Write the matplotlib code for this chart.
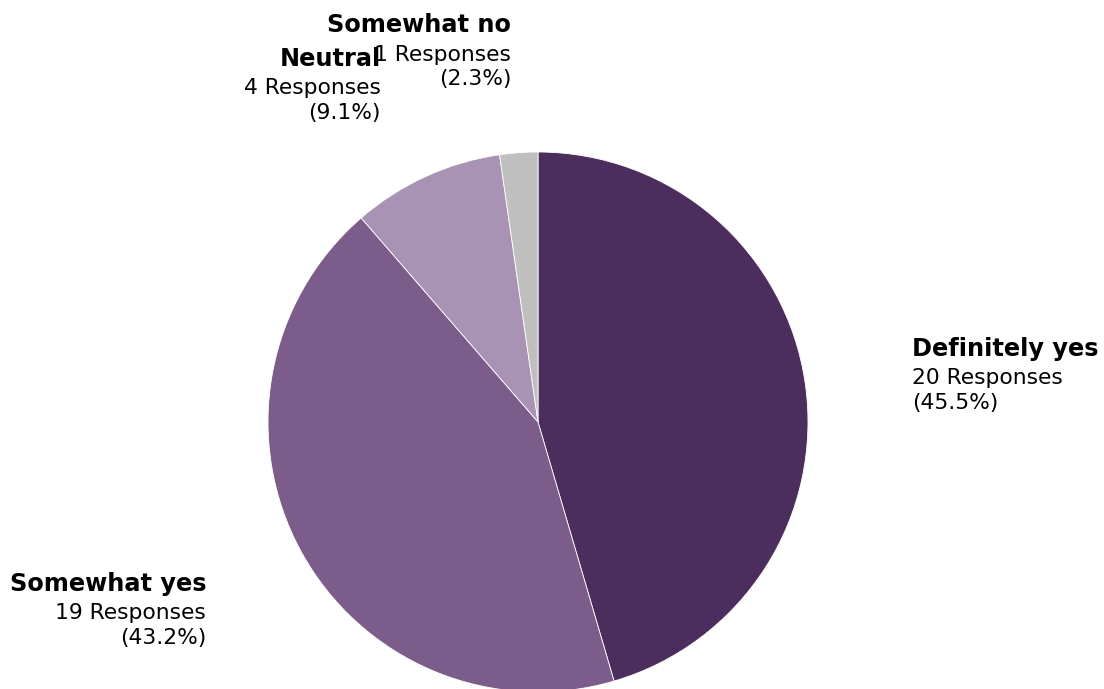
import matplotlib
matplotlib.use("Agg")
import matplotlib.pyplot as plt
import numpy as np

labels = ["Definitely yes", "Somewhat yes", "Neutral", "Somewhat no"]
counts = [20, 19, 4, 1]
colors = ["#4b2d5e", "#7c5c8a", "#a893b5", "#bfbfbf"]

W, H = 1104, 689
cx, cy, r = 538, 422, 270

fig = plt.figure(figsize=(W / 100, H / 100), dpi=100)
ax = fig.add_axes([0, 0, 1, 1])

wedges, _ = ax.pie(counts, colors=colors, startangle=90, counterclock=False,
                   radius=1, wedgeprops=dict(edgecolor="white", linewidth=0.6))

total = sum(counts)
for w, lab, n in zip(wedges, labels, counts):
    ang = np.deg2rad((w.theta1 + w.theta2) / 2)
    x = 1.4 * np.cos(ang)
    y = 1.4 * np.sin(ang)
    ha = "left" if x > 0 else "right"
    ax.annotate(lab, (x, y), xytext=(0, 5.5), textcoords="offset points",
                ha=ha, va="bottom", fontsize=17.3, fontweight="bold")
    ax.text(x, y, f"{n} Responses\n({n / total * 100:.1f}%)", ha=ha, va="top",
            fontsize=15.7, linespacing=1.28)

ax.set_xlim(-cx / r, (W - cx) / r)
ax.set_ylim(-(H - cy) / r, cy / r)
ax.set_aspect("equal")
ax.axis("off")

fig.savefig("out.png", dpi=100)
